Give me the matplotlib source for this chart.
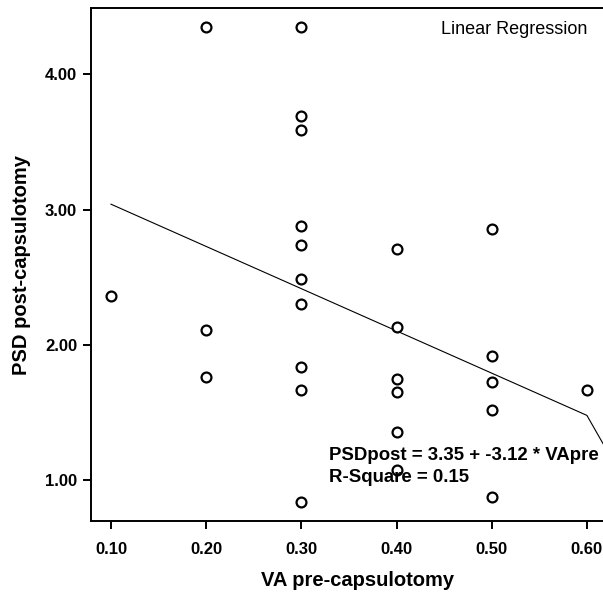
import matplotlib
matplotlib.use("Agg")
import matplotlib.pyplot as plt

plt.rcParams['font.family'] = ['Liberation Sans', 'DejaVu Sans']

# Data
va_pre = [0.1,
          0.2, 0.2, 0.2,
          0.3, 0.3, 0.3, 0.3, 0.3, 0.3, 0.3, 0.3, 0.3, 0.3,
          0.4, 0.4, 0.4, 0.4, 0.4, 0.4,
          0.5, 0.5, 0.5, 0.5, 0.5,
          0.6]
psd_post = [2.36,
            4.35, 2.11, 1.76,
            4.35, 3.69, 3.59, 2.88, 2.74, 2.49, 2.30, 1.84, 1.67, 0.84,
            2.71, 2.13, 1.75, 1.65, 1.36, 1.08,
            2.86, 1.92, 1.73, 1.52, 0.88,
            1.67]

fit_x = [0.10, 0.60, 0.63]
fit_y = [3.04, 1.48, 1.11]

x_ticks = [0.10, 0.20, 0.30, 0.40, 0.50, 0.60]
x_ticklabels = ['0.10', '0.20', '0.30', '0.40', '0.50', '0.60']
y_ticks = [1.00, 2.00, 3.00, 4.00]
y_ticklabels = ['1.00', '2.00', '3.00', '4.00']

fig = plt.figure(figsize=(6.03, 5.94), dpi=100)
ax = fig.add_axes([91/603, 73/594, 534/603, 512.7/594])

ax.plot(fit_x, fit_y, color='black', lw=0.8, zorder=2)
ax.plot(va_pre, psd_post, linestyle='none', marker='o', markersize=7.1,
        markerfacecolor='white', markeredgecolor='black', markeredgewidth=1.6, zorder=3)

ax.set_xlim(0.079, 0.64)
ax.set_ylim(0.70, 4.487)

ax.set_xticks(x_ticks)
ax.set_xticklabels(x_ticklabels, fontsize=12, fontweight='bold')
ax.set_yticks(y_ticks)
ax.set_yticklabels(y_ticklabels, fontsize=12, fontweight='bold')
ax.tick_params(axis='both', direction='out', length=6, width=1.4, color='black')
ax.tick_params(axis='x', pad=9)
ax.tick_params(axis='y', pad=4)

for s in ['left', 'bottom', 'top']:
    ax.spines[s].set_linewidth(1.4)
ax.spines['right'].set_visible(False)

ax.set_xlabel('VA pre-capsulotomy', fontsize=14.5, fontweight='bold', labelpad=10)
ax.set_ylabel('PSD post-capsulotomy', fontsize=14.5, fontweight='bold', labelpad=10)

fig.text(514/603, 1 - 30/594, 'Linear Regression', fontsize=13, ha='center', va='center')
fig.text(329/603, 1 - 456/594, 'PSDpost = 3.35 + -3.12 * VApre', fontsize=13.4, fontweight='bold',
         ha='left', va='center')
fig.text(329/603, 1 - 477/594, 'R-Square = 0.15', fontsize=13.4, fontweight='bold',
         ha='left', va='center')

fig.savefig('out.png', dpi=100)
